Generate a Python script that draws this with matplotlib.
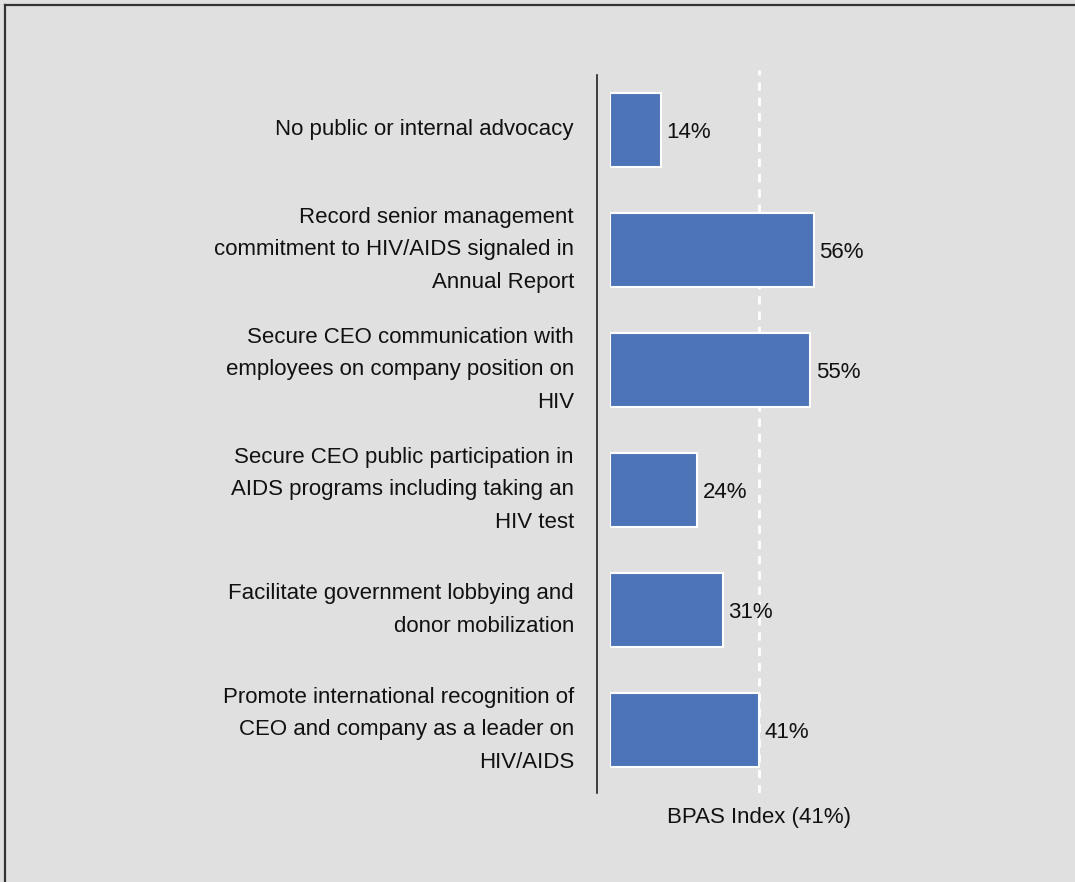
import matplotlib.pyplot as plt
from matplotlib.lines import Line2D

# data
labels = [
    "No public or internal advocacy",
    "Record senior management\ncommitment to HIV/AIDS signaled in\nAnnual Report",
    "Secure CEO communication with\nemployees on company position on\nHIV",
    "Secure CEO public participation in\nAIDS programs including taking an\nHIV test",
    "Facilitate government lobbying and\ndonor mobilization",
    "Promote international recognition of\nCEO and company as a leader on\nHIV/AIDS",
]
values = [14, 56, 55, 24, 31, 41]
index_value = 41
index_label = "BPAS Index (41%)"

bg = "#e0e0e0"
bar_color = "#4d74b7"
plt.rcParams['font.family'] = ['Liberation Sans', 'DejaVu Sans']

fig = plt.figure(figsize=(10.75, 8.82), dpi=100, facecolor=bg)
W, H = 1075, 882
# axes: x=0 at 610px, 3.643 px per %, y from 70px to 793px
ax = fig.add_axes([610 / W, (H - 793) / H, 70 * 3.643 / W, 723 / H])
ax.set_facecolor(bg)

ypos = list(range(len(values)))
ax.barh(ypos, values, height=0.62, color=bar_color, edgecolor='white', linewidth=1.5, zorder=3)
ax.set_xlim(0, 70)
ax.set_ylim(5.525, -0.5)

# dashed index line
ax.axvline(index_value, color='white', linestyle=(0, (3, 2.5)), linewidth=2, zorder=2)

for y, v in zip(ypos, values):
    ax.annotate(f"{v}%", xy=(v, y), xytext=(3.8, -1.5), textcoords='offset points',
                ha='left', va='center', fontsize=16, color='#111111')

for y, lab in zip(ypos, labels):
    ax.annotate(lab, xy=(0, y), xycoords='data', xytext=(-26, 0), textcoords='offset points',
                ha='right', va='center', fontsize=16, color='#111111', linespacing=1.74,
                multialignment='right', annotation_clip=False)

ax.text(index_value, -0.02, index_label, transform=ax.get_xaxis_transform(), ha='center', va='top',
        fontsize=16, color='#111111')

for s in ['top', 'right', 'bottom']:
    ax.spines[s].set_visible(False)
ax.spines['left'].set_position(('outward', 9.4))
ax.spines['left'].set_bounds(-0.458, 5.525)
ax.spines['left'].set_color('#222222')
ax.spines['left'].set_linewidth(1.2)
ax.set_xticks([])
ax.set_yticks([])

# frame on top and left edges
fig.add_artist(Line2D([5 / W, 5 / W], [0, 1 - 5 / H], transform=fig.transFigure, color='#333333', linewidth=1.6))
fig.add_artist(Line2D([5 / W, 1], [1 - 5 / H, 1 - 5 / H], transform=fig.transFigure, color='#333333', linewidth=1.6))

fig.savefig("out.png", dpi=100, facecolor=bg)
